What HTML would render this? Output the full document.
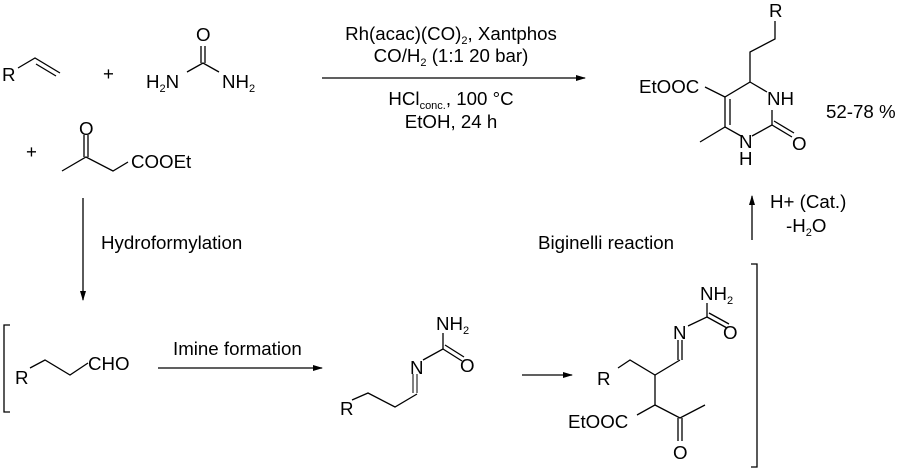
<!DOCTYPE html>
<html><head><meta charset="utf-8"><style>
html,body{margin:0;padding:0;background:#fff}
svg{display:block}
text{font-family:"Liberation Sans",Arial,sans-serif;font-size:18.7px;fill:#000}
.s{font-size:11px}
</style></head><body>
<svg width="900" height="471" viewBox="0 0 900 471" xmlns="http://www.w3.org/2000/svg">
<defs><marker id="a" markerWidth="10" markerHeight="6" refX="9" refY="3" orient="auto" markerUnits="userSpaceOnUse"><path d="M0,0 L10,3 L0,6 z" fill="#000"/></marker></defs>
<g stroke="#000" stroke-width="1.3" fill="none">
<path d="M18,68 L35,58 L60,73"/><path d="M36,64 L56,76"/>
<path d="M187,72 L203,63 L219,72"/><path d="M201,63 L201,46 M205,63 L205,46"/>
<path d="M62,171 L86,157 L113,171 L128,162"/><path d="M84,157 L84,135 M88,157 L88,135"/>
<path d="M322,78 L585,78" marker-end="url(#a)"/>
<path d="M775,21 L775,39 L750,52 L750,82 L725,97 L725,127 L741,136"/>
<path d="M730,99 L730,125"/>
<path d="M750,82 L767,92"/>
<path d="M752,136 L772,125 L772,110"/>
<path d="M772,125 L792,137 M774,121 L794,133"/>
<path d="M705,87 L725,97"/><path d="M725,127 L700,142"/>
<path d="M83,198 L83,300" marker-end="url(#a)"/>
<path d="M752,240 L752,196" marker-end="url(#a)"/>
<path d="M10,325 L4,325 L4,412 L10,412"/>
<path d="M30,368 L45,360 L70,375 L88,363"/>
<path d="M158,368 L322,368" marker-end="url(#a)"/>
<path d="M352,400 L368,393 L395,407 L417,394"/>
<path d="M413,393 L413,374 M417,393 L417,374" stroke-width="1"/>
<path d="M423,360 L443,349 L443,333"/>
<path d="M443,349 L462,361 M445,345 L464,357"/>
<path d="M522,375 L572,375" marker-end="url(#a)"/>
<path d="M618,368 L630,360 L655,375 L680,360"/>
<path d="M678,360 L678,340 M682,360 L682,340"/>
<path d="M688,326 L707,317 L707,303"/>
<path d="M707,317 L727,328 M709,313 L729,324"/>
<path d="M655,375 L655,405 L637,415"/>
<path d="M655,405 L680,418 L705,405"/>
<path d="M678,418 L678,441 M682,418 L682,441"/>
<path d="M751,264 L757,264 L757,467 L751,467"/>
</g>
<text x="2" y="81">R</text>
<text x="103" y="80">+</text>
<text x="146" y="88">H<tspan class="s" dy="4">2</tspan><tspan dy="-4">N</tspan></text>
<text x="196" y="41">O</text>
<text x="222" y="88">NH<tspan class="s" dy="4">2</tspan></text>
<text x="26" y="158">+</text>
<text x="79" y="135">O</text>
<text x="131" y="168">COOEt</text>
<text x="451" y="40" text-anchor="middle">Rh(acac)(CO)<tspan class="s" dy="4">2</tspan><tspan dy="-4">, Xantphos</tspan></text>
<text x="451" y="62" text-anchor="middle">CO/H<tspan class="s" dy="4">2</tspan><tspan dy="-4"> (1:1 20 bar)</tspan></text>
<text x="451" y="105" text-anchor="middle">HCl<tspan class="s" dy="4">conc.</tspan><tspan dy="-4">, 100 °C</tspan></text>
<text x="451" y="128" text-anchor="middle">EtOH, 24 h</text>
<text x="769" y="17">R</text>
<text x="639" y="93">EtOOC</text>
<text x="767" y="105">NH</text>
<text x="739" y="148">N</text>
<text x="739" y="165">H</text>
<text x="792" y="150">O</text>
<text x="826" y="118">52-78 %</text>
<text x="101" y="249">Hydroformylation</text>
<text x="538" y="249">Biginelli reaction</text>
<text x="770" y="208">H+ (Cat.)</text>
<text x="786" y="232">-H<tspan class="s" dy="4">2</tspan><tspan dy="-4">O</tspan></text>
<text x="15" y="384">R</text>
<text x="88" y="370">CHO</text>
<text x="173" y="355">Imine formation</text>
<text x="340" y="415">R</text>
<text x="410" y="374">N</text>
<text x="436" y="330">NH<tspan class="s" dy="4">2</tspan></text>
<text x="460" y="372">O</text>
<text x="597" y="385">R</text>
<text x="673" y="339">N</text>
<text x="700" y="300">NH<tspan class="s" dy="4">2</tspan></text>
<text x="723" y="339">O</text>
<text x="568" y="428">EtOOC</text>
<text x="673" y="459">O</text>
</svg>
</body></html>
